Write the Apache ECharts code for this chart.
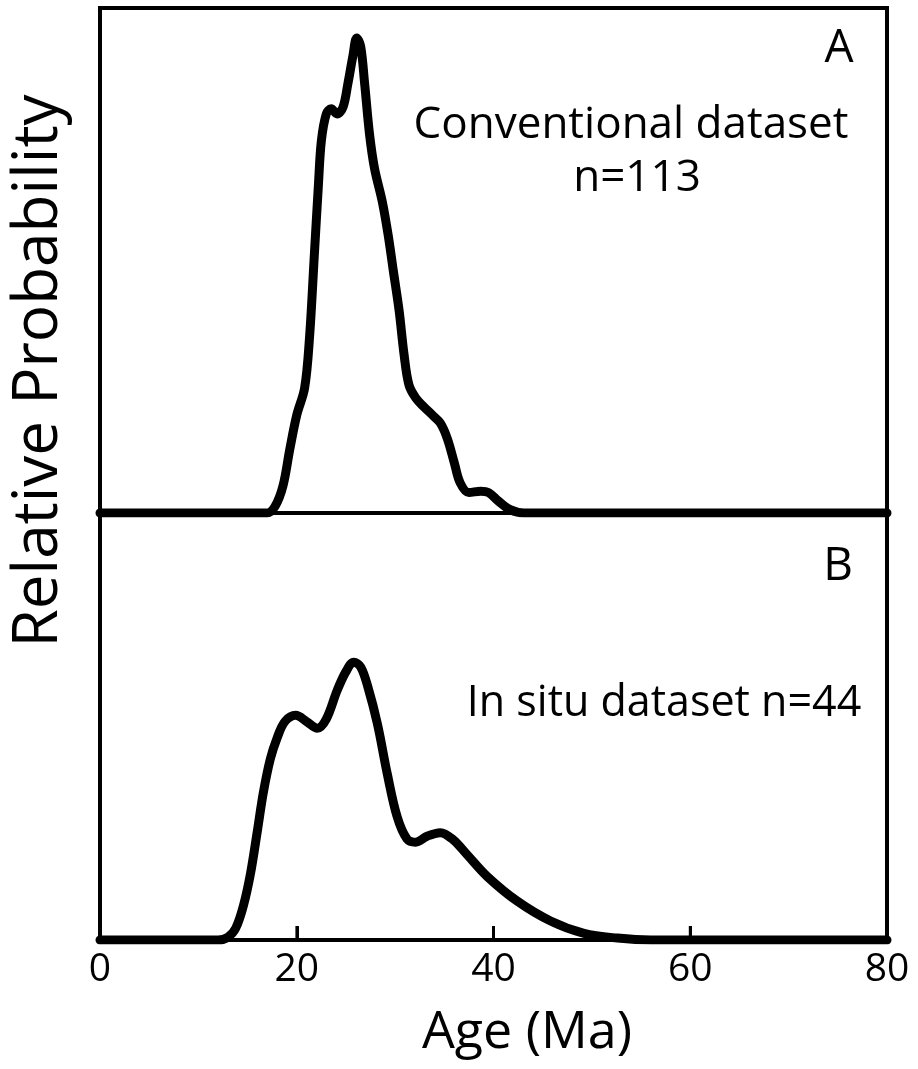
<!DOCTYPE html>
<html>
<head>
<meta charset="utf-8">
<script src="https://cdn.jsdelivr.net/npm/echarts@6/dist/echarts.min.js"></script>
<style>
html,body{margin:0;padding:0;background:#fff;}
#chart{width:918px;height:1069px;}
</style>
</head>
<body>
<div id="chart"></div>
<script>
// Panel A: conventional dataset (age Ma, relative probability)
const conventionalAges = [0, 10, 17, 17.8, 18.6, 19.3, 20.0, 20.8, 21.3, 21.8, 22.2, 22.5, 23.0, 23.5, 24.1, 24.7, 25.2, 25.7, 26.1, 26.5, 26.9, 27.4, 27.9, 28.7, 29.3, 29.8, 30.4, 30.9, 31.4, 32.1, 32.9, 33.8, 34.6, 35.3, 36.0, 36.6, 37.5, 38.7, 39.5, 40.5, 41.7, 43.1, 50, 80];
const conventionalProb = [0, 0, 0, 1.4, 5.7, 13.5, 20.6, 26.3, 37.0, 54.8, 69.0, 78.3, 84.0, 85.1, 84.0, 85.4, 90.4, 96.1, 100, 98.2, 90.4, 79.7, 72.6, 65.5, 58.4, 51.2, 42.7, 33.5, 27.0, 24.2, 22.4, 20.6, 18.9, 15.7, 10.7, 6.4, 4.3, 4.6, 4.3, 2.5, 0.7, 0, 0, 0];

// Panel B: in situ dataset
const inSituAges = [0, 10, 12, 13, 13.8, 14.6, 15.3, 16.0, 16.6, 17.3, 18.0, 18.8, 19.9, 21.0, 22.1, 23.0, 24.1, 25.0, 25.8, 26.5, 27.2, 28.2, 29.2, 30.2, 31.2, 32.1, 33.3, 34.6, 35.9, 37.3, 39.4, 42.4, 45.8, 49.2, 52.6, 56, 80];
const inSituProb = [0, 0, 0, 0.6, 2.5, 7.4, 14, 23, 31, 38, 42.5, 46, 47.3, 46, 44.6, 46.5, 52.5, 56.5, 58.5, 57.5, 53.5, 45.5, 35, 26, 21.3, 20.6, 21.9, 22.6, 21.1, 18, 13.3, 8.2, 4, 1.4, 0.4, 0, 0];

const xTickInterval = 20;          // tick labels 0, 20, 40, 60, 80
const xTickMarks = [20, 40, 60];   // inner tick marks on the age axis
const panelLabels = ['A', 'B'];
const panelTexts = [['Conventional dataset', 'n=113'], ['In situ dataset n=44']];
const xAxisTitle = 'Age (Ma)';
const yAxisTitle = 'Relative Probability';

const FONT = '"Open Sans", "Noto Sans", sans-serif';
const zip = (a, b) => a.map((v, i) => [v, b[i]]);
const frameLine = () => ({show: true, onZero: false, lineStyle: {color: '#000', width: 4}});

const chart = echarts.init(document.getElementById('chart'), null, {renderer: 'canvas'});
chart.setOption({
  backgroundColor: '#ffffff',
  animation: false,
  grid: [
    {left: 100, right: 31, top: 8, height: 505, show: true, borderColor: '#000', borderWidth: 4, backgroundColor: 'transparent'},
    {left: 100, right: 31, top: 513, height: 427, show: false}
  ],
  xAxis: [
    {gridIndex: 0, type: 'value', min: 0, max: 80, interval: xTickInterval,
     axisLine: {show: false}, axisTick: {show: false}, axisLabel: {show: false}, splitLine: {show: false}},
    {gridIndex: 1, type: 'value', position: 'bottom', min: 0, max: 80, interval: xTickInterval,
     axisLine: frameLine(),
     axisTick: {show: true, inside: true, length: 14, lineStyle: {color: '#000', width: 3}},
     axisLabel: {show: true, color: '#000', fontFamily: FONT, fontSize: 39, margin: 10},
     splitLine: {show: false}}
  ],
  yAxis: [
    {gridIndex: 0, type: 'value', min: 0, max: 106.3, show: false},
    {gridIndex: 1, type: 'value', position: 'left', min: 0, max: 89.9,
     axisLine: frameLine(), axisTick: {show: false}, axisLabel: {show: false}, splitLine: {show: false}},
    {gridIndex: 1, type: 'value', position: 'right', min: 0, max: 89.9,
     axisLine: frameLine(), axisTick: {show: false}, axisLabel: {show: false}, splitLine: {show: false}}
  ],
  series: [
    {type: 'line', xAxisIndex: 0, yAxisIndex: 0, data: zip(conventionalAges, conventionalProb),
     showSymbol: false, smooth: 0.35, lineStyle: {color: '#000', width: 9, join: 'round', cap: 'round'}},
    {type: 'line', xAxisIndex: 1, yAxisIndex: 1, data: zip(inSituAges, inSituProb),
     showSymbol: false, smooth: 0.35, lineStyle: {color: '#000', width: 9, join: 'round', cap: 'round'}},
    {type: 'scatter', xAxisIndex: 1, yAxisIndex: 1, data: xTickMarks.map(v => [v, 0]),
     symbol: 'rect', symbolSize: [3, 14], symbolOffset: [0, -7], silent: true, z: 5,
     itemStyle: {color: '#000'}, clip: false}
  ],
  graphic: [
    {type: 'text', x: 839, y: 49, style: {text: panelLabels[0], fill: '#000', font: '46px ' + FONT, textAlign: 'center', textVerticalAlign: 'middle'}},
    {type: 'text', x: 631, y: 125, style: {text: panelTexts[0][0], fill: '#000', font: '44px ' + FONT, textAlign: 'center', textVerticalAlign: 'middle'}},
    {type: 'text', x: 637, y: 178, style: {text: panelTexts[0][1], fill: '#000', font: '44px ' + FONT, textAlign: 'center', textVerticalAlign: 'middle'}},
    {type: 'text', x: 838, y: 567, style: {text: panelLabels[1], fill: '#000', font: '46px ' + FONT, textAlign: 'center', textVerticalAlign: 'middle'}},
    {type: 'text', x: 664, y: 704, style: {text: panelTexts[1][0], fill: '#000', font: '43px ' + FONT, textAlign: 'center', textVerticalAlign: 'middle'}},
    {type: 'text', x: 39, y: 371, rotation: Math.PI / 2, style: {text: yAxisTitle, fill: '#000', font: '62px ' + FONT, textAlign: 'center', textVerticalAlign: 'middle'}},
    {type: 'text', x: 527, y: 1033, style: {text: xAxisTitle, fill: '#000', font: '52px ' + FONT, textAlign: 'center', textVerticalAlign: 'middle'}}
  ]
});
</script>
</body>
</html>
